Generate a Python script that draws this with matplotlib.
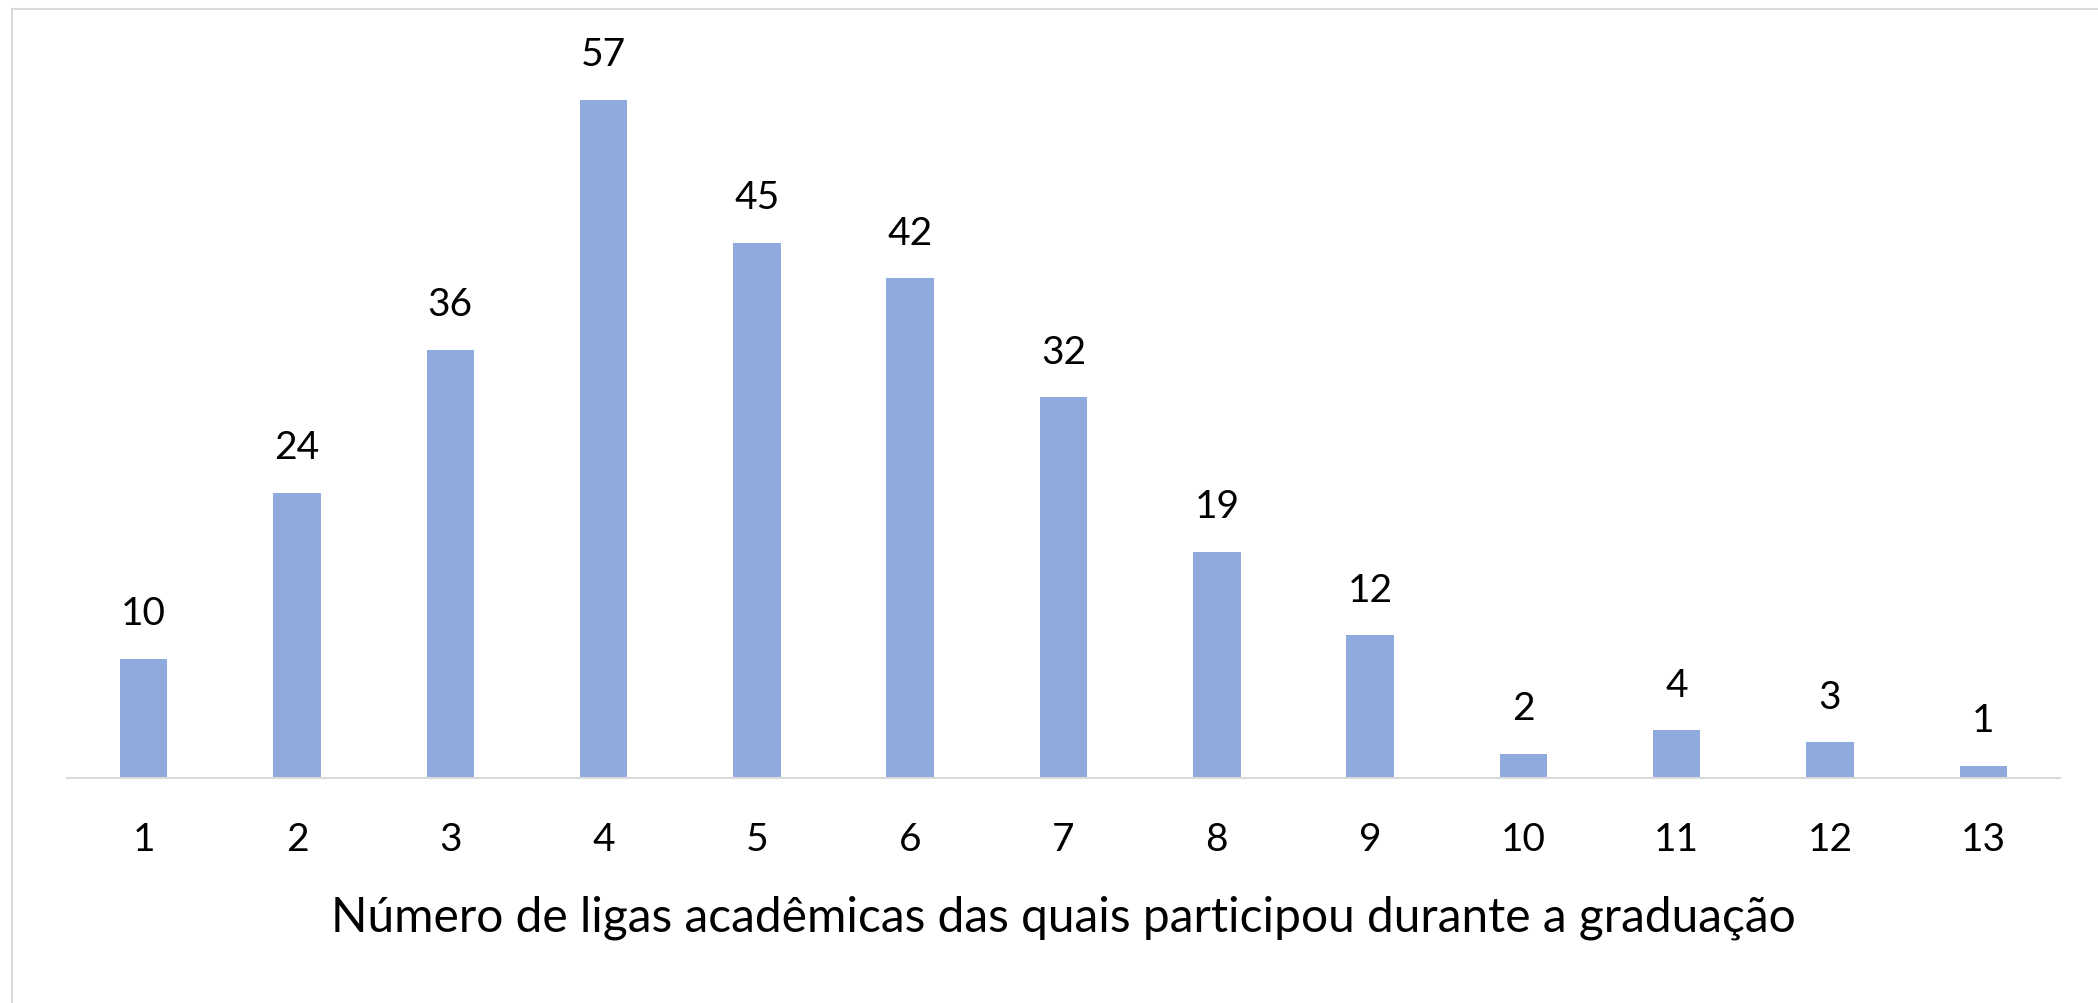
import matplotlib
matplotlib.use("Agg")
import matplotlib.pyplot as plt
from matplotlib.lines import Line2D

categories = ["1", "2", "3", "4", "5", "6", "7", "8", "9", "10", "11", "12", "13"]
values = [10, 24, 36, 57, 45, 42, 32, 19, 12, 2, 4, 3, 1]
xlabel = "Número de ligas acadêmicas das quais participou durante a graduação"

plt.rcParams['font.family'] = ['Lato', 'DejaVu Sans']

W, H = 2098, 1004
fig = plt.figure(figsize=(W / 100, H / 100), dpi=100)
fig.patch.set_facecolor("white")

left = 67 / W
right = 2060 / W
bottom = 1 - 779 / H
top = 1 - 65.3 / H
ax = fig.add_axes([left, bottom, right - left, top - bottom])

x = list(range(len(categories)))
bars = ax.bar(x, values, width=0.31, color="#8FAADC", zorder=2)

ax.set_xlim(-0.5, len(categories) - 0.5)
ax.set_ylim(0, 60)

for rect, v in zip(bars, values):
    ax.annotate(str(v), (rect.get_x() + rect.get_width() / 2, rect.get_height()),
                xytext=(0, 25), textcoords="offset points",
                ha="center", va="baseline", fontsize=28, color="black",
                annotation_clip=False)

ax.set_xticks(x)
ax.set_xticklabels(categories, fontsize=28)
ax.tick_params(axis="x", length=0, pad=31, colors="black")
ax.set_yticks([])
for s in ["top", "right", "left"]:
    ax.spines[s].set_visible(False)
ax.spines["bottom"].set_color("#D9D9D9")
ax.spines["bottom"].set_linewidth(1.5)
ax.spines["bottom"].set_zorder(3)

ax.set_xlabel(xlabel, fontsize=34.5, labelpad=27, color="black")

# outer chart frame (visible top and left edges)
fig.add_artist(Line2D([12 / W, 1.0], [1 - 10 / H, 1 - 10 / H], transform=fig.transFigure,
                      color="#D9D9D9", linewidth=1.5))
fig.add_artist(Line2D([12 / W, 12 / W], [0.0, 1 - 10 / H], transform=fig.transFigure,
                      color="#D9D9D9", linewidth=1.5))

fig.savefig("out.png", dpi=100, facecolor="white")
